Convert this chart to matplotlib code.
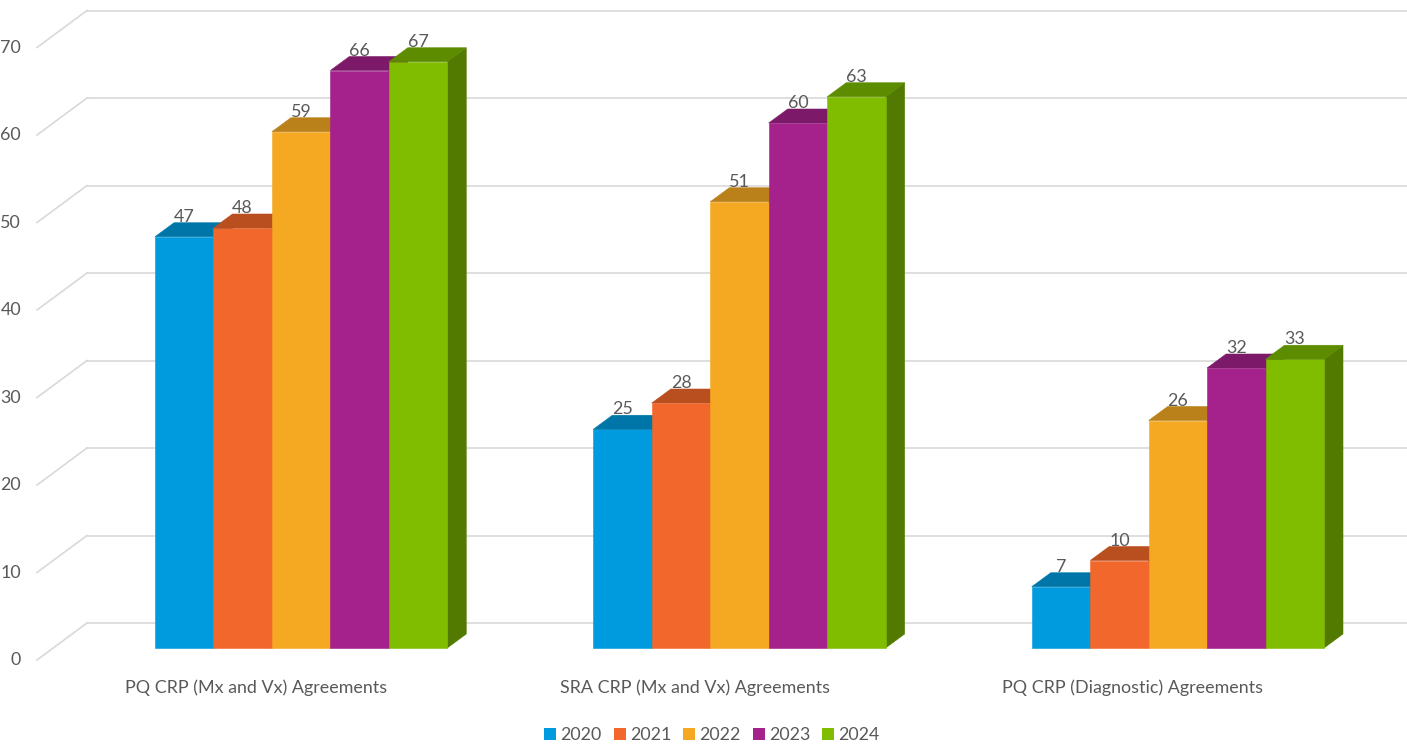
# plot.py
# 3D-style clustered column chart (Excel look) built from 2D patches

import matplotlib
matplotlib.use("Agg")
import matplotlib.pyplot as plt
from matplotlib.patches import Polygon, Patch

# # # # # #
# DATA

categories = ["PQ CRP (Mx and Vx) Agreements",
              "SRA CRP (Mx and Vx) Agreements",
              "PQ CRP (Diagnostic) Agreements"]
years = ["2020", "2021", "2022", "2023", "2024"]
vals_2020 = [47, 25, 7]
vals_2021 = [48, 28, 10]
vals_2022 = [59, 51, 26]
vals_2023 = [66, 60, 32]
vals_2024 = [67, 63, 33]
series = [vals_2020, vals_2021, vals_2022, vals_2023, vals_2024]
yticks = [0, 10, 20, 30, 40, 50, 60, 70]

# # # # # #
# STYLE

front_cols = ["#009ADE", "#F2672B", "#F5A822", "#A5218C", "#80BD00"]
top_cols = ["#0076A8", "#B94F1F", "#BA801A", "#7C1A69", "#5E8C00"]
side_cols = ["#00668F", "#A0451B", "#A06E16", "#6A165A", "#527A00"]
txt = "#595959"
grid = "#D9D9D9"
font = "Lato"
fs = 12.9

W, H = 1407, 745
PX_X = 58.45      # pixels per bar slot
PX_Y = 8.75       # pixels per value unit
X0, Y0 = 155, 648 # pixel of first bar's bottom-left corner
GROUP_STEP = 7.5  # in bar slots

# depth offsets (pixels -> data)
def dxp(p):
    return p / PX_X
def dyp(p):
    return p / PX_Y

bar_dx, bar_dy = dxp(19), dyp(14)       # bar depth
back_dx, back_dy = dxp(34), dyp(25)     # bar plane -> back wall
front_dx, front_dy = dxp(-16), dyp(-12) # bar plane -> front edge
wall_left = dxp(87 - X0)
front_left = dxp(37 - X0)

fig = plt.figure(figsize=(W / 100, H / 100), dpi=100)
ax = fig.add_axes([0, 0, 1, 1])
ax.set_xlim(-X0 / PX_X, (W - X0) / PX_X)
ax.set_ylim(-(H - Y0) / PX_Y, Y0 / PX_Y)
ax.axis("off")

# back wall gridlines + floor diagonals
xr = ax.get_xlim()[1]
for v in yticks:
    ax.plot([wall_left, xr], [v + back_dy, v + back_dy], color=grid, lw=1.2, zorder=1)
    ax.plot([front_left, wall_left], [v + front_dy, v + back_dy], color=grid, lw=1.2, zorder=1)
    ax.text(dxp(21 - X0), v + front_dy, str(v), ha="right", va="center",
            color=txt, fontsize=fs, family=font)

# bars, drawn left to right so each one hides the previous side face
z = 2
for g in range(len(categories)):
    for i, vals in enumerate(series):
        x = g * GROUP_STEP + i
        v = vals[g]
        ax.bar(x, v, width=1.0, align="edge", color=front_cols[i],
               edgecolor=front_cols[i], lw=0.4, zorder=z)
        side = Polygon([(x + 1, 0), (x + 1 + bar_dx, bar_dy),
                        (x + 1 + bar_dx, v + bar_dy), (x + 1, v)],
                       closed=True, fc=side_cols[i], ec=side_cols[i], lw=0.4,
                       zorder=z - 0.5)
        top = Polygon([(x, v), (x + 1, v), (x + 1 + bar_dx, v + bar_dy),
                       (x + bar_dx, v + bar_dy)],
                      closed=True, fc=top_cols[i], ec=top_cols[i], lw=0.4,
                      zorder=z + 0.5)
        ax.add_patch(side)
        ax.add_patch(top)
        ax.annotate(str(v), (x + 0.5, v), xytext=(0, 14.4), textcoords="offset points",
                    ha="center", va="center", color=txt, fontsize=fs, family=font,
                    zorder=50)
        z += 1
    # category label
    cx = g * GROUP_STEP + len(series) / 2 + dxp(-45)
    ax.text(cx, dyp(-40), categories[g], ha="center", va="center",
            color=txt, fontsize=fs, family=font)

handles = [Patch(facecolor=c, edgecolor="none") for c in front_cols]
fig.legend(handles, years, loc="center", bbox_to_anchor=(712 / W, 1 - 735 / H),
           ncol=5, frameon=False, handlelength=0.67, handleheight=0.67,
           handletextpad=0.25, columnspacing=0.65,
           prop={"family": font, "size": fs}, labelcolor=txt)

plt.savefig("out.png", dpi=100)
